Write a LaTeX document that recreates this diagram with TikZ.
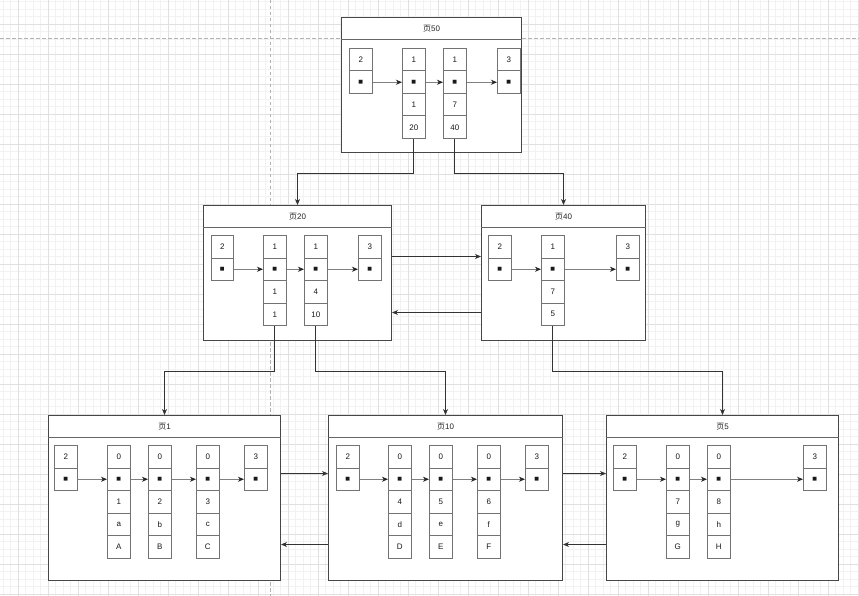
\documentclass[tikz,border=0pt]{standalone}
\usepackage{fontspec}
\setmainfont{Liberation Sans}
\newfontfamily\cjk{Noto Sans CJK SC}
\newfontfamily\dejavu{DejaVu Sans}
\usetikzlibrary{arrows.meta}
\newcommand\sq{{\dejavu\fontsize{5}{5}\selectfont ■}}
\tikzset{
  minorgrid/.style={draw=black!5, line width=0.6pt},
  majorgrid/.style={draw=black!12, line width=0.7pt},
  pageline/.style={draw=black!30, line width=0.8pt, dash pattern=on 3.5pt off 2.5pt},
  pagebox/.style={draw=black!72, fill=white, line width=1pt, inner sep=0pt},
  headline/.style={draw=black!60, line width=0.9pt},
  titletext/.style={font=\fontsize{8}{9}\selectfont, text=black!85},
  cellbox/.style={draw=black!55, fill=white, line width=1pt, inner sep=0pt,
    minimum width=22.5pt, minimum height=22.5pt, font=\fontsize{8}{9}\selectfont, text=black!90},
  inarrow/.style={draw=black!50, line width=1pt, -{Stealth[length=6pt,width=5pt,inset=1.8pt,color=black!85]}},
  conn/.style={draw=black!80, line width=0.9pt, -{Stealth[length=6pt,width=5pt,inset=1.8pt]}}
}
\newcommand\mkcol[4]{%
  \foreach \t [count=\i] in {#4} {%
    \node[cellbox, anchor=north west] (#1-\i) at (#2, {#3+(\i-1)*22.5}) {\t};
  }}
\newcommand\mkpage[6]{%
  \node[pagebox, minimum width=#4pt, minimum height=#5pt, anchor=north west] (#1) at (#2,#3) {};
  \draw[headline] ([yshift=-22.5pt]#1.north west) -- ([yshift=-22.5pt]#1.north east);
  \node[titletext] (#1-title) at ([yshift=-11.5pt]#1.north) {{\cjk 页}#6};}
\begin{document}
\begin{tikzpicture}[x=1pt, y=-1pt]
\useasboundingbox (0,0) rectangle (859,596);
\fill[white] (0,0) rectangle (859,596);
% grid
\foreach \i in {0,...,114} {\draw[minorgrid] ({3+\i*7.5},0) -- ({3+\i*7.5},596);}
\foreach \i in {0,...,79} {\draw[minorgrid] (0,{1.5+\i*7.5}) -- (859,{1.5+\i*7.5});}
\foreach \i in {0,...,28} {\draw[majorgrid] ({18+\i*30},0) -- ({18+\i*30},596);}
\foreach \i in {0,...,19} {\draw[majorgrid] (0,{24+\i*30}) -- (859,{24+\i*30});}
\draw[pageline] (0,38) -- (859,38);
\draw[pageline] (270,0) -- (270,596);
% pages
\mkpage{p50}{341}{17}{180}{135}{50}
\mkpage{p20}{203}{205}{188}{135}{20}
\mkpage{p40}{481}{205}{164}{135}{40}
\mkpage{p1}{48}{415}{232}{165}{1}
\mkpage{p10}{328}{415}{234}{165}{10}
\mkpage{p5}{606}{415}{232}{165}{5}
% cells page 50
\mkcol{p50a}{349}{48}{2,\sq}
\mkcol{p50b}{402}{48}{1,\sq,1,20}
\mkcol{p50c}{443}{48}{1,\sq,7,40}
\mkcol{p50d}{497}{48}{3,\sq}
% page 20
\mkcol{p20a}{210.5}{235}{2,\sq}
\mkcol{p20b}{263}{235}{1,\sq,1,1}
\mkcol{p20c}{304}{235}{1,\sq,4,10}
\mkcol{p20d}{358}{235}{3,\sq}
% page 40
\mkcol{p40a}{488}{235}{2,\sq}
\mkcol{p40b}{541}{235}{1,\sq,7,5}
\mkcol{p40c}{616}{235}{3,\sq}
% page 1
\mkcol{p1a}{54}{445}{2,\sq}
\mkcol{p1b}{107}{445}{0,\sq,1,a,A}
\mkcol{p1c}{148}{445}{0,\sq,2,b,B}
\mkcol{p1d}{196}{445}{0,\sq,3,c,C}
\mkcol{p1e}{244}{445}{3,\sq}
% page 10
\mkcol{p10a}{336}{445}{2,\sq}
\mkcol{p10b}{388}{445}{0,\sq,4,d,D}
\mkcol{p10c}{429}{445}{0,\sq,5,e,E}
\mkcol{p10d}{477}{445}{0,\sq,6,f,F}
\mkcol{p10e}{525}{445}{3,\sq}
% page 5
\mkcol{p5a}{613}{445}{2,\sq}
\mkcol{p5b}{666}{445}{0,\sq,7,g,G}
\mkcol{p5c}{707}{445}{0,\sq,8,h,H}
\mkcol{p5d}{803}{445}{3,\sq}
% arrows inside pages
\draw[inarrow] (p50a-2.east) -- (p50b-2.west);
\draw[inarrow] (p50b-2.east) -- (p50c-2.west);
\draw[inarrow] (p50c-2.east) -- (p50d-2.west);
\draw[inarrow] (p20a-2.east) -- (p20b-2.west);
\draw[inarrow] (p20b-2.east) -- (p20c-2.west);
\draw[inarrow] (p20c-2.east) -- (p20d-2.west);
\draw[inarrow] (p40a-2.east) -- (p40b-2.west);
\draw[inarrow] (p40b-2.east) -- (p40c-2.west);
\draw[inarrow] (p1a-2.east) -- (p1b-2.west);
\draw[inarrow] (p1b-2.east) -- (p1c-2.west);
\draw[inarrow] (p1c-2.east) -- (p1d-2.west);
\draw[inarrow] (p1d-2.east) -- (p1e-2.west);
\draw[inarrow] (p10a-2.east) -- (p10b-2.west);
\draw[inarrow] (p10b-2.east) -- (p10c-2.west);
\draw[inarrow] (p10c-2.east) -- (p10d-2.west);
\draw[inarrow] (p10d-2.east) -- (p10e-2.west);
\draw[inarrow] (p5a-2.east) -- (p5b-2.west);
\draw[inarrow] (p5b-2.east) -- (p5c-2.west);
\draw[inarrow] (p5c-2.east) -- (p5d-2.west);
% connectors between pages
\draw[conn] (p50b-4.south) -- ++(0,34) -| (p20.north);
\draw[conn] (p50c-4.south) -- ++(0,34) -| (p40.north);
\draw[conn] (p20b-4.south) -- ++(0,45) -| (p1.north);
\draw[conn] (p20c-4.south) -- ++(0,45) -| (p10.north);
\draw[conn] (p40b-4.south) -- ++(0,45) -| (p5.north);
\draw[conn] ([yshift=16.5pt]p20.east) -- ([yshift=16.5pt]p40.west);
\draw[conn] ([yshift=-39.5pt]p40.west) -- ([yshift=-39.5pt]p20.east);
\draw[conn] ([yshift=24.5pt]p1.east) -- ([yshift=24.5pt]p10.west);
\draw[conn] ([yshift=-46.5pt]p10.west) -- ([yshift=-46.5pt]p1.east);
\draw[conn] ([yshift=24.5pt]p10.east) -- ([yshift=24.5pt]p5.west);
\draw[conn] ([yshift=-46.5pt]p5.west) -- ([yshift=-46.5pt]p10.east);
\end{tikzpicture}
\end{document}
